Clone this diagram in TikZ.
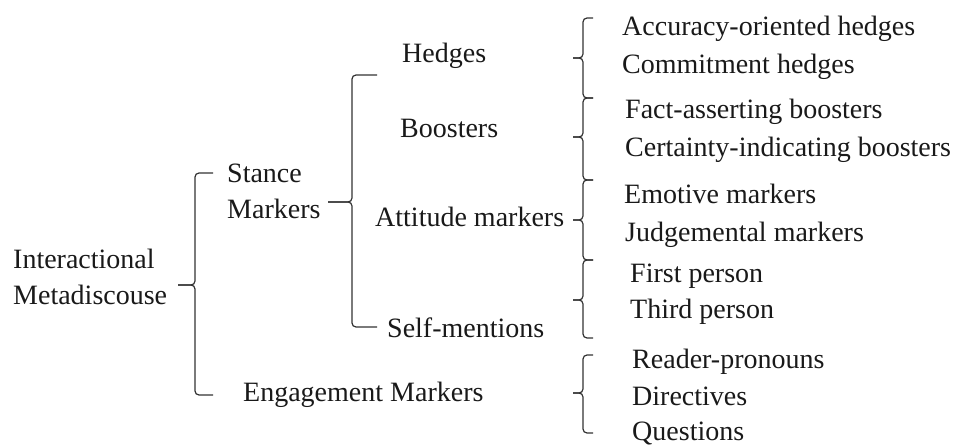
\documentclass[tikz,border=0pt]{standalone}
\usepackage{fontspec}
\setmainfont{Liberation Serif}
\newfontfamily\labelfont{Liberation Serif}
\begin{document}
\begin{tikzpicture}[x=1pt,y=-1pt,
  lbl/.style={anchor=base west,inner sep=0pt,text=black!90,font=\labelfont\fontsize{28}{33}\selectfont},
  brline/.style={draw=black!80,line width=1.2pt,rounded corners=4pt}]
% canvas
\useasboundingbox (0,0) rectangle (960,446);
% bracket: #1 spine x, #2 top y, #3 middle y, #4 bottom y, #5 end x, #6 tip x
\newcommand{\treebracket}[6]{%
  \draw[brline] (#5,#2) -- (#1,#2) -- (#1,#3) -- (#6,#3);
  \draw[brline] (#6,#3) -- (#1,#3) -- (#1,#4) -- (#5,#4);
}
% level 0
\node[lbl] (im1) at (13,268) {Interactional};
\node[lbl] (im2) at (13,304) {Metadiscouse};
% level 1
\node[lbl] (sm1) at (227,183) {Stance};
\node[lbl] (sm2) at (227,219) {Markers};
\node[lbl] (eng) at (243,401) {Engagement Markers};
% level 2
\node[lbl] (hed) at (402,63) {Hedges};
\node[lbl] (boo) at (400,138) {Boosters};
\node[lbl] (att) at (375,227) {Attitude markers};
\node[lbl] (sel) at (387,337) {Self-mentions};
% level 3
\node[lbl] (h1) at (622,36) {Accuracy-oriented hedges};
\node[lbl] (h2) at (622,74) {Commitment hedges};
\node[lbl] (b1) at (625,119) {Fact-asserting boosters};
\node[lbl] (b2) at (625,157) {Certainty-indicating boosters};
\node[lbl] (a1) at (624,204) {Emotive markers};
\node[lbl] (a2) at (625,242) {Judgemental markers};
\node[lbl] (s1) at (630,282) {First person};
\node[lbl] (s2) at (630,318) {Third person};
\node[lbl] (e1) at (632,368) {Reader-pronouns};
\node[lbl] (e2) at (632,405) {Directives};
\node[lbl] (e3) at (632,440) {Questions};
% brackets
\treebracket{195}{173}{285}{395}{213}{178}
\treebracket{352}{75}{202}{327}{377}{328}
\treebracket{583}{18}{58}{98}{593}{573}
\treebracket{583}{98}{137}{180}{593}{573}
\treebracket{583}{180}{220}{260}{593}{573}
\treebracket{583}{260}{300}{338}{593}{573}
\treebracket{583}{355}{393}{433}{593}{573}
\end{tikzpicture}
\end{document}
